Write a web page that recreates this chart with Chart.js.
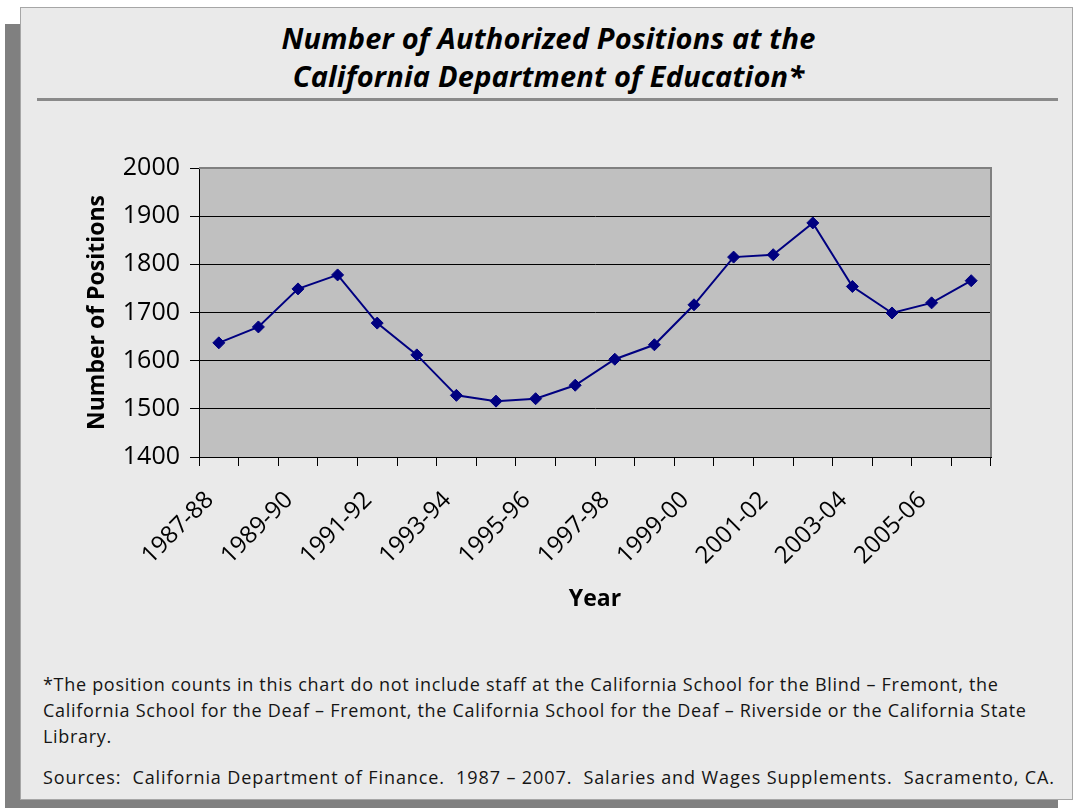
<!DOCTYPE html>
<html>
<head>
<meta charset="utf-8">
<script src="https://cdn.jsdelivr.net/npm/chart.js@4/dist/chart.umd.min.js"></script>
<style>
  html, body { margin:0; padding:0; background:#ffffff; }
  body { width:1078px; height:808px; position:relative; overflow:hidden; font-family:"Open Sans", sans-serif; }
  #shadow { position:absolute; left:5px; top:24px; width:1053px; height:784px; background:#808080; }
  #panel { position:absolute; left:20px; top:7px; width:1051px; height:791px; background:#eaeaea; border:1px solid #a6a6a6; }
  #title { position:absolute; left:22px; top:19px; width:1053px; text-align:center; font-weight:700; font-style:italic; font-size:29px; line-height:38px; color:#000; letter-spacing:0.2px; }
  #rule { position:absolute; left:37px; top:98px; width:1021px; height:3px; background:#8a8a8a; }
  .note { position:absolute; left:43px; font-size:18px; line-height:26px; color:#151515; white-space:nowrap; letter-spacing:0.7px; }
  #chart { position:absolute; left:0; top:0; }
</style>
</head>
<body>
<div id="shadow"></div>
<div id="panel"></div>
<div id="title">Number of Authorized Positions at the<br>California Department of Education*</div>
<div id="rule"></div>
<div class="note" style="top:671px">*The position counts in this chart do not include staff at the California School for the Blind – Fremont, the<br>California School for the Deaf – Fremont, the California School for the Deaf – Riverside or the California State<br>Library.</div>
<div class="note" style="top:764px; letter-spacing:0.9px">Sources:&nbsp; California Department of Finance.&nbsp; 1987 – 2007.&nbsp; Salaries and Wages Supplements.&nbsp; Sacramento, CA.</div>
<canvas id="chart" width="1078" height="808"></canvas>
<script>
const years = ["1987-88","1988-89","1989-90","1990-91","1991-92","1992-93","1993-94","1994-95","1995-96","1996-97",
               "1997-98","1998-99","1999-00","2000-01","2001-02","2002-03","2003-04","2004-05","2005-06","2006-07"];
const positions = [1637, 1670, 1749, 1778, 1678, 1612, 1528, 1516, 1521, 1549,
                   1603, 1633, 1716, 1815, 1820, 1886, 1754, 1699, 1720, 1766];
const yTicks = [1400, 1500, 1600, 1700, 1800, 1900, 2000];
const shownLabelEvery = 2;

const plotBg = {
  id: 'plotBg',
  beforeDraw(chart) {
    const {ctx, chartArea: a} = chart;
    ctx.save();
    ctx.fillStyle = '#c0c0c0';
    ctx.fillRect(a.left, a.top, a.right - a.left, a.bottom - a.top);
    ctx.restore();
  },
  beforeDatasetsDraw(chart) {
    const {ctx, chartArea: a} = chart;
    ctx.save();
    ctx.strokeStyle = '#808080';
    ctx.lineWidth = 2;
    ctx.beginPath();
    ctx.moveTo(a.left, a.top);
    ctx.lineTo(a.right, a.top);
    ctx.lineTo(a.right, a.bottom);
    ctx.stroke();
    ctx.restore();
  }
};

new Chart(document.getElementById('chart'), {
  type: 'line',
  data: {
    labels: years,
    datasets: [{
      data: positions,
      borderColor: '#000080',
      borderWidth: 2,
      backgroundColor: '#000080',
      pointBackgroundColor: '#000080',
      pointBorderColor: '#000080',
      pointStyle: 'rectRot',
      pointRadius: 6,
      pointBorderWidth: 1,
      tension: 0,
      fill: false
    }]
  },
  options: {
    responsive: false,
    devicePixelRatio: 1,
    animation: false,
    layout: { padding: { left: 80, top: 168, right: 87, bottom: 180 } },
    plugins: { legend: { display: false }, title: { display: false }, tooltip: { enabled: false } },
    scales: {
      x: {
        type: 'category',
        offset: true,
        afterFit(scale) { scale.height = 171; },
        grid: { offset: true, drawOnChartArea: false, drawTicks: true, tickLength: 9, color: '#000', lineWidth: 1 },
        border: { display: true, color: '#000', width: 1 },
        ticks: {
          autoSkip: false, maxRotation: 45, minRotation: 45, padding: 20, labelOffset: -9,
          color: '#000', font: { family: 'Open Sans', size: 24 },
          callback: (v, i) => (i % shownLabelEvery === 0 ? years[i] : '')
        },
        title: { display: true, text: 'Year', color: '#000', font: { family: 'Open Sans', size: 23, weight: 'bold' }, padding: { top: 0, bottom: 15 } }
      },
      y: {
        min: yTicks[0], max: yTicks[yTicks.length - 1],
        afterFit(scale) { scale.width = 119; },
        afterBuildTicks(scale) { scale.ticks = yTicks.map(v => ({ value: v })); },
        grid: {
          drawOnChartArea: true, drawTicks: true, tickLength: 9,
          color: (c) => (c.tick && c.tick.value === 2000 ? '#808080' : '#000'),
          tickColor: '#000', lineWidth: 1
        },
        border: { display: true, color: '#000', width: 1 },
        ticks: { padding: 10, color: '#000', font: { family: 'Open Sans', size: 25 }, callback: (v) => String(v) },
        title: { display: true, text: 'Number of Positions', color: '#000', font: { family: 'Open Sans', size: 23, weight: 'bold' }, padding: { top: 4, bottom: 0 } }
      }
    }
  },
  plugins: [plotBg]
});
</script>
</body>
</html>
